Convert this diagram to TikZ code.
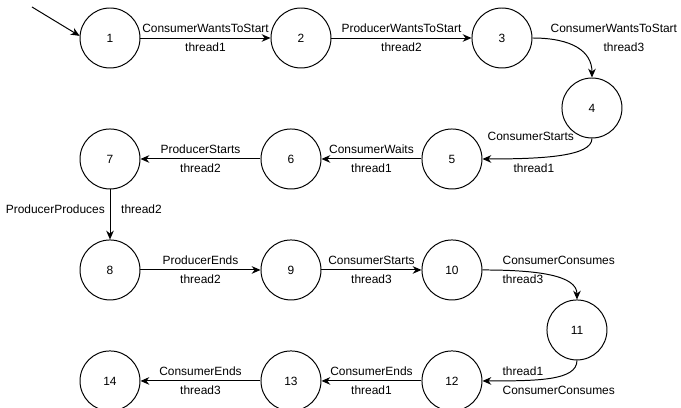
\documentclass[tikz,border=0pt]{standalone}
\usepackage{fontspec}
\setmainfont{Liberation Sans}
\usetikzlibrary{positioning, arrows.meta, calc}

\begin{document}
\begin{tikzpicture}[
  font=\fontsize{8.5}{10}\selectfont,
  node distance=1.25cm and 3cm,
  st/.style={draw, circle, minimum size=1.5cm, inner sep=0pt, line width=0.7pt},
  arrow/.style={-{Stealth[length=2.2mm, width=1.9mm]}, line width=0.7pt},
]
  \useasboundingbox (0,0) rectangle (17.025,-10.2);
  \node[st] at (2.75,-0.95) (n1) {1};
  \node[st, right=3.25cm of n1] (n2) {2};
  \node[st, right=3.5cm of n2]  (n3) {3};
  \node[st] at ($(n3)+(2.25,-1.75)$) (n4) {4};
  \node[st, below=1.5cm of n1]  (n7) {7};
  \node[st, right=of n7]        (n6) {6};
  \node[st, right=2.5cm of n6]  (n5) {5};
  \node[st, below=of n7]        (n8) {8};
  \node[st, right=of n8]        (n9) {9};
  \node[st, right=2.5cm of n9]  (n10) {10};
  \node[st] at ($(n10)+(3.125,-1.5)$) (n11) {11};
  \node[st, below=of n8]        (n14) {14};
  \node[st, right=of n14]       (n13) {13};
  \node[st, right=2.5cm of n13] (n12) {12};
  \coordinate (start) at (0.8,-0.175);

  \draw[arrow] (start) -- (n1.176);
  \draw[arrow] (n1) -- node[above]{ConsumerWantsToStart} node[below]{thread1} (n2);
  \draw[arrow] (n2) -- node[above]{ProducerWantsToStart} node[below]{thread2} (n3);
  \draw[arrow] (n3.east) .. controls +(1,0) and +(0,0.65) .. (n4.north)
    node[pos=0, above right, xshift=0.325cm]{ConsumerWantsToStart}
    node[pos=0, below right, xshift=1.65cm]{thread3};
  \draw[arrow] (n4.south) .. controls +(0,-0.45) and +(1.5,0) .. (n5.east)
    node[pos=1, above right, yshift=0.325cm]{ConsumerStarts}
    node[pos=1, below right, xshift=0.65cm]{thread1};
  \draw[arrow] (n5) -- node[above]{ConsumerWaits} node[below]{thread1} (n6);
  \draw[arrow] (n6) -- node[above]{ProducerStarts} node[below]{thread2} (n7);
  \draw[arrow] (n7) -- node[pos=0.4, left]{ProducerProduces}
    node[pos=0.4, right, xshift=0.15cm]{thread2} (n8);
  \draw[arrow] (n8) -- node[above]{ProducerEnds} node[below]{thread2} (n9);
  \draw[arrow] (n9) -- node[above]{ConsumerStarts} node[below]{thread3} (n10);
  \draw[arrow] (n10.east) .. controls +(1.4,0) and +(0,0.6) .. (n11.north)
    node[pos=0, above right, xshift=0.375cm]{ConsumerConsumes}
    node[pos=0, below right, xshift=0.375cm]{thread3};
  \draw[arrow] (n11.south) .. controls +(0,-0.5) and +(1.4,0) .. (n12.east)
    node[pos=1, above right, xshift=0.375cm]{thread1}
    node[pos=1, below right, xshift=0.375cm]{ConsumerConsumes};
  \draw[arrow] (n12) -- node[above]{ConsumerEnds} node[below]{thread1} (n13);
  \draw[arrow] (n13) -- node[above]{ConsumerEnds} node[below]{thread3} (n14);
\end{tikzpicture}
\end{document}
